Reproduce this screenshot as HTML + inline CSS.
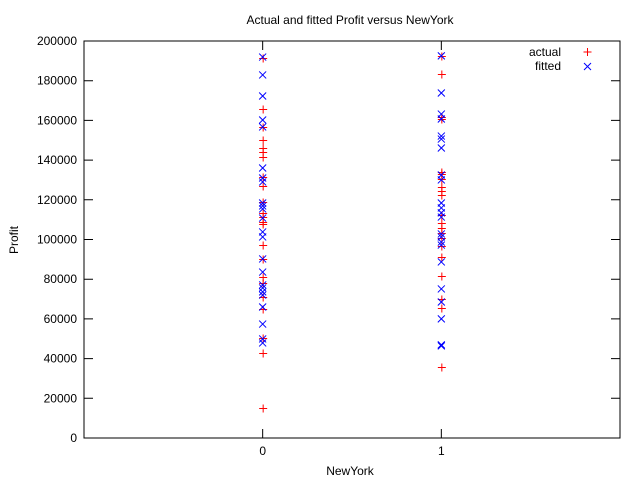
<!DOCTYPE html>
<html><head><meta charset="utf-8"><style>body{margin:0;background:#fff}svg{display:block;font-family:"Liberation Sans",sans-serif;font-size:12px}</style></head>
<body>
<svg id="c" width="640" height="480">
<rect x="0" y="0" width="640" height="480" fill="#fff"/>
<text x="350" y="24" text-anchor="middle">Actual and fitted Profit versus NewYork</text>
<text x="350" y="475" text-anchor="middle">NewYork</text>
<text transform="translate(18,240) rotate(-90)" text-anchor="middle">Profit</text>
<rect x="84" y="41" width="536" height="397" fill="none" stroke="#000"/>
<g id="axes"></g>
<g id="marks"></g>
<g>
<text x="561" y="56" text-anchor="end">actual</text>
<text x="561" y="70" text-anchor="end">fitted</text>
<path d="M583.5 52h8M587.5 48v8" stroke="#f00"/>
<path d="M584 63l7 7M584 70l7-7" stroke="#00f"/>
</g>
</svg>
<script>
const yTicks=[0,20000,40000,60000,80000,100000,120000,140000,160000,180000,200000];
const xTicks=[0,1];
const actual0=[191.4,165.8,156.7,150.1,146.1,144.1,141.6,131.5,127.0,118.9,113.4,111.3,108.8,107.8,97.2,90.2,81.1,78.1,71.0,65.0,50.4,42.8,15.1];
const fitted0=[191.9,182.9,172.3,160.2,156.7,136.0,131.0,129.0,118.4,116.9,115.4,110.8,103.8,101.3,90.2,83.6,77.1,75.6,73.6,72.0,66.0,57.4,49.9,47.9];
const actual1=[192.5,183.4,161.7,160.7,134.0,133.0,130.5,126.5,124.4,122.4,112.3,108.3,105.8,103.3,100.8,96.7,91.2,81.6,70.0,65.5,35.8];
const fitted1=[192.5,173.8,163.2,160.7,152.1,150.6,146.1,132.5,130.0,118.4,115.9,113.4,111.3,102.8,101.3,98.7,97.2,88.7,75.1,68.5,60.0,46.9,46.4];
const NS="http://www.w3.org/2000/svg";
const X=v=>84+(v+1)/3*536, Y=v=>438-v/200000*397;
function mk(tag,at,parent){const e=document.createElementNS(NS,tag);for(const k in at)e.setAttribute(k,at[k]);parent.appendChild(e);return e;}
const ax=document.getElementById('axes'), mg=document.getElementById('marks');
yTicks.forEach(t=>{const y=Y(t);
 const l=mk('path',{d:`M84 ${y}h9M620 ${y}h-9`,stroke:'#000'},ax);
 
 
 const tx=mk('text',{x:77,y:y+4,'text-anchor':'end'},ax);tx.textContent=t;
 
 
});
xTicks.forEach(t=>{const x=X(t);
 const l=mk('path',{d:`M${x} 438v-9M${x} 41v9`,stroke:'#000'},ax);
 
 
 const tx=mk('text',{x:x,y:455,'text-anchor':'middle'},ax);tx.textContent=t;
 
 
});
function plus(xv,arr){arr.forEach(v=>{const x=X(xv)+0.5,y=Math.round(Y(v*1000))+0.5;
 const p=mk('path',{d:`M${x-4} ${y}h8M${x} ${y-4}v8`,stroke:'#f00'},mg);
 
 });}
function cross(xv,arr){arr.forEach(v=>{const x=X(xv),y=Y(v*1000);
 const p=mk('path',{d:`M${x-3.5} ${y-3.5}l7 7M${x-3.5} ${y+3.5}l7-7`,stroke:'#00f'},mg);
 
 });}
plus(0,actual0);cross(0,fitted0);plus(1,actual1);cross(1,fitted1);
</script>
</body></html>
